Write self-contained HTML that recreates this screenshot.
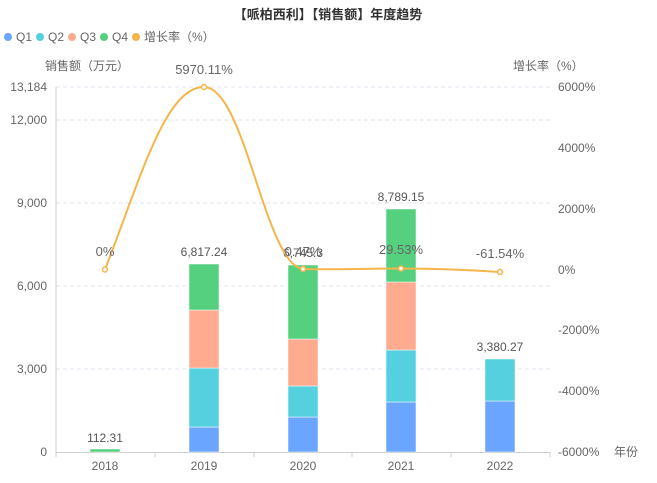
<!DOCTYPE html>
<html><head><meta charset="utf-8"><style>
body{margin:0;background:#fff}
svg text{font-family:"Liberation Sans","Noto Sans CJK SC",sans-serif}
</style></head><body>
<svg width="657" height="478" viewBox="0 0 657 478" xmlns="http://www.w3.org/2000/svg">
<text x="328" y="19" font-size="13" font-weight="bold" fill="#333" text-anchor="middle">【哌柏西利】【销售额】年度趋势</text>
<g font-size="12" fill="#666">
<circle cx="8" cy="37" r="4" fill="#6aa6ff"/><text x="16" y="41">Q1</text>
<circle cx="40" cy="37" r="4" fill="#55d0df"/><text x="48" y="41">Q2</text>
<circle cx="72" cy="37" r="4" fill="#ffab8f"/><text x="80" y="41">Q3</text>
<circle cx="104" cy="37" r="4" fill="#55d07e"/><text x="112" y="41">Q4</text>
<circle cx="136" cy="37" r="4" fill="#f5b54a"/><text x="144" y="41">增长率（%）</text>
</g>
<g font-size="12" fill="#666">
<text x="45" y="70">销售额（万元）</text>
<text x="513" y="70">增长率（%）</text>
</g>
<g stroke="#e0e3ee" stroke-dasharray="4,3" stroke-width="1">
<line x1="56" y1="87" x2="550" y2="87"/><line x1="56" y1="120" x2="550" y2="120"/>
<line x1="56" y1="203" x2="550" y2="203"/><line x1="56" y1="286" x2="550" y2="286"/>
<line x1="56" y1="369" x2="550" y2="369"/>
</g>
<line x1="56" y1="87" x2="56" y2="452" stroke="#ccc"/>
<line x1="56" y1="452.5" x2="550" y2="452.5" stroke="#ccc"/>
<g stroke="#ccc"><line x1="56" y1="452" x2="56" y2="457"/><line x1="155" y1="452" x2="155" y2="457"/><line x1="254" y1="452" x2="254" y2="457"/><line x1="352" y1="452" x2="352" y2="457"/><line x1="451" y1="452" x2="451" y2="457"/><line x1="550" y1="452" x2="550" y2="457"/></g>
<g font-size="12" fill="#666" text-anchor="end">
<text x="47" y="91">13,184</text><text x="47" y="124">12,000</text><text x="47" y="207">9,000</text><text x="47" y="290">6,000</text><text x="47" y="373">3,000</text><text x="47" y="456">0</text>
</g>
<g font-size="12" fill="#666">
<text x="558" y="91">6000%</text><text x="558" y="152">4000%</text><text x="558" y="213">2000%</text><text x="558" y="274">0%</text><text x="558" y="334">-2000%</text><text x="558" y="395">-4000%</text><text x="558" y="456">-6000%</text><text x="614" y="456">年份</text>
</g>
<g font-size="12" fill="#666" text-anchor="middle">
<text x="105" y="470">2018</text><text x="204" y="470">2019</text><text x="303" y="470">2020</text><text x="401" y="470">2021</text><text x="500" y="470">2022</text>
</g>
<g stroke="#fff" stroke-width="0.5">
<rect x="90" y="449" width="30" height="3" fill="#55d07e"/>
<rect x="189" y="427" width="30" height="25" fill="#6aa6ff"/>
<rect x="189" y="368" width="30" height="59" fill="#55d0df"/>
<rect x="189" y="310" width="30" height="58" fill="#ffab8f"/>
<rect x="189" y="264" width="30" height="46" fill="#55d07e"/>
<rect x="288" y="417" width="30" height="35" fill="#6aa6ff"/>
<rect x="288" y="386" width="30" height="31" fill="#55d0df"/>
<rect x="288" y="339" width="30" height="47" fill="#ffab8f"/>
<rect x="288" y="265" width="30" height="74" fill="#55d07e"/>
<rect x="386" y="402" width="30" height="50" fill="#6aa6ff"/>
<rect x="386" y="350" width="30" height="52" fill="#55d0df"/>
<rect x="386" y="282" width="30" height="68" fill="#ffab8f"/>
<rect x="386" y="209" width="30" height="73" fill="#55d07e"/>
<rect x="485" y="401" width="30" height="51" fill="#6aa6ff"/>
<rect x="485" y="359" width="30" height="42" fill="#55d0df"/>
</g>
<g font-size="12" fill="#555" text-anchor="middle">
<text x="105" y="442">112.31</text><text x="204" y="256">6,817.24</text><text x="303" y="257">6,745.3</text><text x="401" y="201">8,789.15</text><text x="500" y="351">3,380.27</text>
</g>
<path d="M105,269.5 C140,180 165,87 204,87 C245,87 265,265 303,269 C340,270 370,268.5 401,268.5 C440,268.5 470,270 500,272" fill="none" stroke="#f5b54a" stroke-width="2"/>
<g fill="#fff" stroke="#f5b54a" stroke-width="1.5">
<circle cx="105" cy="269.5" r="2.5"/><circle cx="204" cy="87" r="2.5"/><circle cx="303" cy="269" r="2.5"/><circle cx="401" cy="268.5" r="2.5"/><circle cx="500" cy="272" r="2.5"/>
</g>
<g font-size="13" fill="#666" text-anchor="middle">
<text x="105" y="256">0%</text><text x="204" y="74">5970.11%</text><text x="303" y="256">0.47%</text><text x="401" y="254">29.53%</text><text x="500" y="258">-61.54%</text>
</g>
</svg>
</body></html>
